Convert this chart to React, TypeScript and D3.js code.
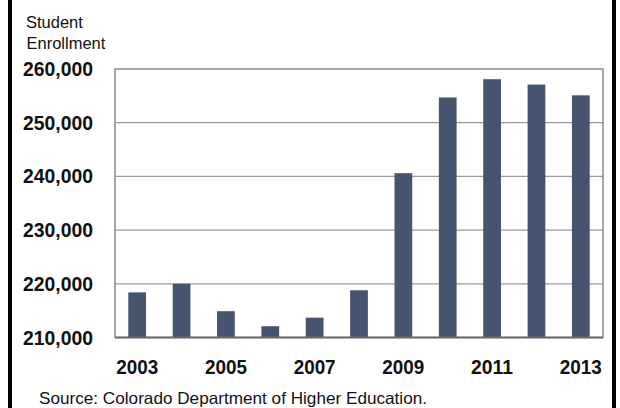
import React from "react";
import * as d3 from "d3";

const years = ["2003","2004","2005","2006","2007","2008","2009","2010","2011","2012","2013"];
const enrollment = [218400, 220000, 214900, 212100, 213700, 218800, 240600, 254700, 258100, 257100, 255100];
const yTicks = [210000, 220000, 230000, 240000, 250000, 260000];
const xLabelYears = ["2003","2005","2007","2009","2011","2013"];

const W = 620, H = 408;
const M = { left: 115, right: 603, top: 69, bottom: 337.5 };

export default function App() {
  const x = d3.scaleBand<string>().domain(years).range([M.left, M.right]).paddingInner(0.6).paddingOuter(0.3);
  const y = d3.scaleLinear().domain([210000, 260000]).range([M.bottom, M.top]);
  const fmt = d3.format(",");
  const font = "'Liberation Sans', Arial, sans-serif";
  return (
    <svg width={W} height={H} style={{ position: "fixed", left: 0, top: 0, background: "#fff" }} fontFamily={font}>
      <rect x={0} y={0} width={W} height={H} fill="#fff" />
      {/* outer frame lines */}
      <rect x={8} y={0} width={4} height={H} fill="#000" />
      <rect x={612} y={0} width={4} height={H} fill="#000" />
      {/* gridlines */}
      {yTicks.slice(1, -1).map((t) => (
        <line key={t} x1={M.left} x2={M.right} y1={y(t)} y2={y(t)} stroke="#9a9a9a" strokeWidth={1.2} />
      ))}
      {/* plot frame */}
      <rect x={M.left} y={M.top} width={M.right - M.left} height={M.bottom - M.top} fill="none" stroke="#7a7a7a" strokeWidth={1.3} />
      {/* bars */}
      {years.map((yr, i) => (
        <rect key={yr} x={x(yr)} y={y(enrollment[i])} width={x.bandwidth()} height={y(210000) - y(enrollment[i])} fill="#465470" />
      ))}
      <line x1={M.left} x2={M.right} y1={M.bottom} y2={M.bottom} stroke="#6a6a6a" strokeWidth={2} />
      {/* y tick labels */}
      {yTicks.map((t) => (
        <text key={t} x={93} y={y(t)} dy="0.36em" textAnchor="end" fontSize={19.5} fontWeight="bold" fill="#111" textLength={70} lengthAdjust="spacingAndGlyphs">
          {fmt(t)}
        </text>
      ))}
      {/* x labels */}
      {xLabelYears.map((yr) => (
        <text key={yr} x={(x(yr) as number) + x.bandwidth() / 2} y={374.3} textAnchor="middle" fontSize={21} fontWeight="bold" fill="#111" textLength={42} lengthAdjust="spacingAndGlyphs">
          {yr}
        </text>
      ))}
      {/* axis title */}
      <text x={26} y={28} fontSize={16.5} fill="#111">Student</text>
      <text x={26.5} y={49.3} fontSize={16.5} fill="#111">Enrollment</text>
      {/* source */}
      <text x={39} y={404} fontSize={16.5} fill="#111" textLength={388} lengthAdjust="spacingAndGlyphs">Source: Colorado Department of Higher Education.</text>
    </svg>
  );
}
